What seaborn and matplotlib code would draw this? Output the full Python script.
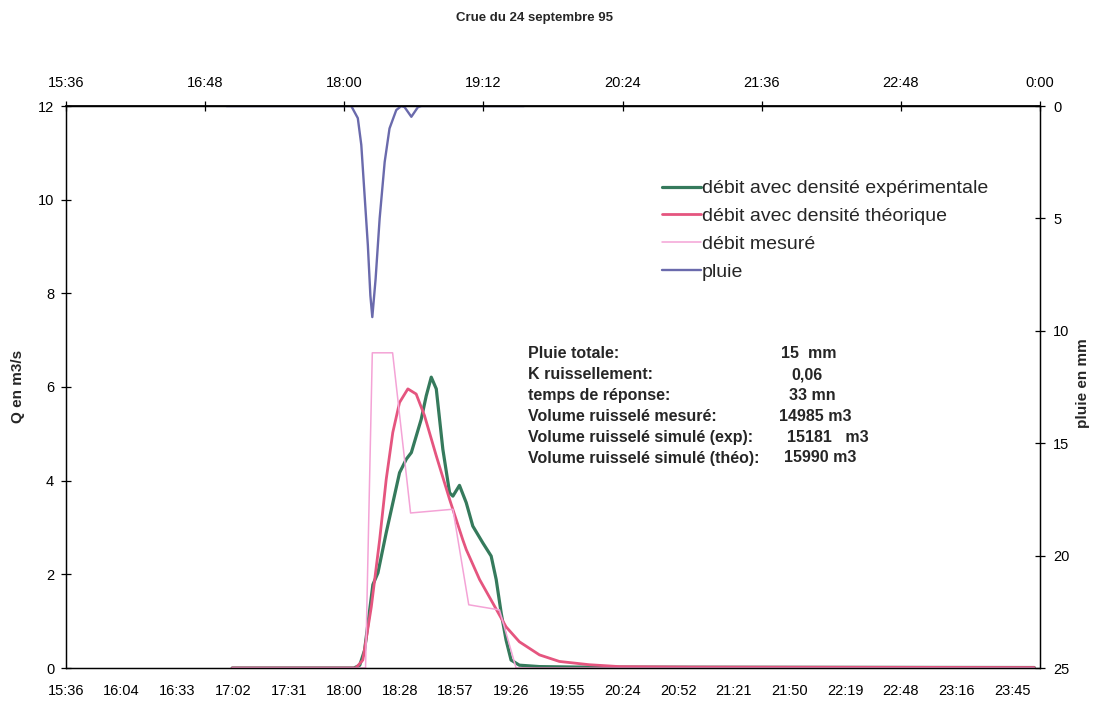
import numpy as np
import pandas as pd
import matplotlib
matplotlib.use("Agg")
import matplotlib.pyplot as plt
import seaborn as sns

# ---------------- data (times in minutes after midnight) ----------------
exp_time = [1022, 1085, 1088, 1090.5, 1094.8, 1097.4, 1101.7, 1108.6, 1112.1, 1114.7,
            1119.8, 1122.4, 1125, 1127.6, 1131, 1134.5, 1136.2, 1139.6, 1143.1, 1146.5,
            1151.7, 1156, 1158.6, 1161.2, 1163.7, 1166.3, 1170.6, 1181, 1200, 1437]
exp_q = [0, 0, 0.06, 0.38, 1.78, 2.03, 2.89, 4.17, 4.46, 4.6,
         5.31, 5.81, 6.21, 5.96, 4.67, 3.74, 3.67, 3.9, 3.53, 3.03,
         2.67, 2.39, 1.89, 1.17, 0.6, 0.17, 0.06, 0.03, 0.02, 0.01]

theo_time = [1022, 1086, 1089.6, 1094, 1098.3, 1101.7, 1105.1, 1108.6, 1112.9, 1117.2,
             1121.5, 1127.6, 1134.5, 1141.3, 1143.1, 1150, 1156.8, 1163.7, 1170.6, 1181,
             1191.3, 1206.8, 1222.3, 1260, 1437]
theo_q = [0, 0, 0.17, 1.31, 2.74, 4.03, 5.03, 5.67, 5.96, 5.85,
          5.39, 4.53, 3.6, 2.74, 2.53, 1.89, 1.39, 0.88, 0.56, 0.28,
          0.14, 0.07, 0.03, 0.02, 0.01]

mes_time = [1022, 1091, 1094.5, 1105, 1114.3, 1136.2, 1144.4, 1160.3, 1168.9, 1437]
mes_q = [0, 0, 6.73, 6.73, 3.31, 3.39, 1.35, 1.24, 0, 0]

rain_time = [1019, 1083.6, 1087, 1088.8, 1090.5, 1092.2, 1093.5, 1094.5, 1096.2, 1098.3,
             1100.9, 1103.4, 1106.9, 1109.5, 1111.2, 1114.7, 1118.1, 1120, 1173]
rain_mm = [0, 0, 0.54, 1.73, 3.96, 6.2, 8.43, 9.39, 7.7, 5.0,
           2.49, 1.0, 0.18, 0, 0.05, 0.48, 0.05, 0, 0]

series_names = ["débit avec densité expérimentale", "débit avec densité théorique",
                "débit mesuré", "pluie"]

bottom_tick_labels = ["15:36", "16:04", "16:33", "17:02", "17:31", "18:00", "18:28", "18:57",
                      "19:26", "19:55", "20:24", "20:52", "21:21", "21:50", "22:19", "22:48",
                      "23:16", "23:45"]
top_tick_labels = ["15:36", "16:48", "18:00", "19:12", "20:24", "21:36", "22:48", "0:00"]
left_ticks = [0, 2, 4, 6, 8, 10, 12]
right_ticks = [0, 5, 10, 15, 20, 25]

info_labels = ["Pluie totale:", "K ruissellement:", "temps de réponse:",
               "Volume ruisselé mesuré:", "Volume ruisselé simulé (exp):",
               "Volume ruisselé simulé (théo):"]
info_values = ["15  mm", "0,06", "33 mn", "14985 m3", "15181   m3", "15990 m3"]

title = "Crue du 24 septembre 95"

# ---------------- styling ----------------
sns.set_theme(style="white")
plt.rcParams["font.family"] = ["Liberation Sans", "DejaVu Sans"]

W, H = 1095, 703
fig = plt.figure(figsize=(W / 100, H / 100), dpi=100)
ax = fig.add_axes([66 / W, 1 - 668 / H, (1040 - 66) / W, (668 - 106) / H])

def to_df(t, v):
    return pd.DataFrame({"x": np.array(t) / 1440.0, "y": v})

c_exp = "#357a5c"
c_theo = "#e5557f"
c_mes = "#f4a3d6"
c_rain = "#6a6aac"

sns.lineplot(data=to_df(exp_time, exp_q), x="x", y="y", ax=ax, color=c_exp, lw=2.3,
             label=series_names[0], legend=False)
sns.lineplot(data=to_df(theo_time, theo_q), x="x", y="y", ax=ax, color=c_theo, lw=2.0,
             label=series_names[1], legend=False)
sns.lineplot(data=to_df(mes_time, mes_q), x="x", y="y", ax=ax, color=c_mes, lw=1.1,
             label=series_names[2], legend=False)

ax2 = ax.twinx()
sns.lineplot(data=to_df(rain_time, rain_mm), x="x", y="y", ax=ax2, color=c_rain, lw=1.7,
             label=series_names[3], legend=False)

x0, x1 = 0.65, 1.0
ax.set_xlim(x0, x1)
ax.set_ylim(0, 12)
ax2.set_ylim(25, 0)

ax.set_xticks([x0 + 0.02 * i for i in range(len(bottom_tick_labels))])
ax.set_xticklabels(bottom_tick_labels)
ax.set_yticks(left_ticks)
ax.set_yticklabels([str(v) for v in left_ticks])
ax2.set_yticks(right_ticks)
ax2.set_yticklabels([str(v) for v in right_ticks])

secx = ax.secondary_xaxis("top")
secx.set_xticks([x0 + 0.05 * i for i in range(len(top_tick_labels))])
secx.set_xticklabels(top_tick_labels)

for a in (ax, ax2):
    a.set_xlabel("")
    a.set_ylabel("")
    for s in a.spines.values():
        s.set_visible(True)
        s.set_color("black")
        s.set_linewidth(0.9)

tick_fs = 10.5
ax.tick_params(axis="both", direction="inout", length=7, width=0.9, colors="black",
               labelsize=tick_fs, pad=5)
ax.tick_params(axis="x", pad=8)
ax2.tick_params(axis="y", direction="inout", length=7, width=0.9, colors="black",
                labelsize=tick_fs, pad=6)
secx.tick_params(axis="x", direction="inout", length=7, width=0.9, colors="black",
                 labelsize=tick_fs, pad=8)
secx.spines["top"].set_color("black")

fig.text(18 / W, 1 - 386 / H, "Q en m3/s", rotation=90, ha="center", va="center",
         fontsize=11, fontweight="bold")
fig.text(1083 / W, 1 - 383 / H, "pluie en mm", rotation=90, ha="center", va="center",
         fontsize=11, fontweight="bold")
fig.text(535 / W, 1 - 18 / H, title, ha="center", va="center", fontsize=9.5,
         fontweight="bold")

# legend
handles = ax.get_lines()[:3] + ax2.get_lines()[:1]
fig.legend(handles, series_names, loc="upper left",
           bbox_to_anchor=(652 / W, 1 - 170 / H), frameon=False, fontsize=14,
           handlelength=2.0, handletextpad=0.05, labelspacing=0.53, borderpad=0)

# info block
for i, (lab, val) in enumerate(zip(info_labels, info_values)):
    y = 1 - (354 + 20.8 * i) / H
    fig.text(528 / W, y, lab, ha="left", va="center", fontsize=11.5, fontweight="bold")
    xs = [781, 791, 789, 779, 787, 784][i]
    fig.text(xs / W, y, val, ha="left", va="center", fontsize=11.5, fontweight="bold")

fig.savefig("out.png", dpi=100)
